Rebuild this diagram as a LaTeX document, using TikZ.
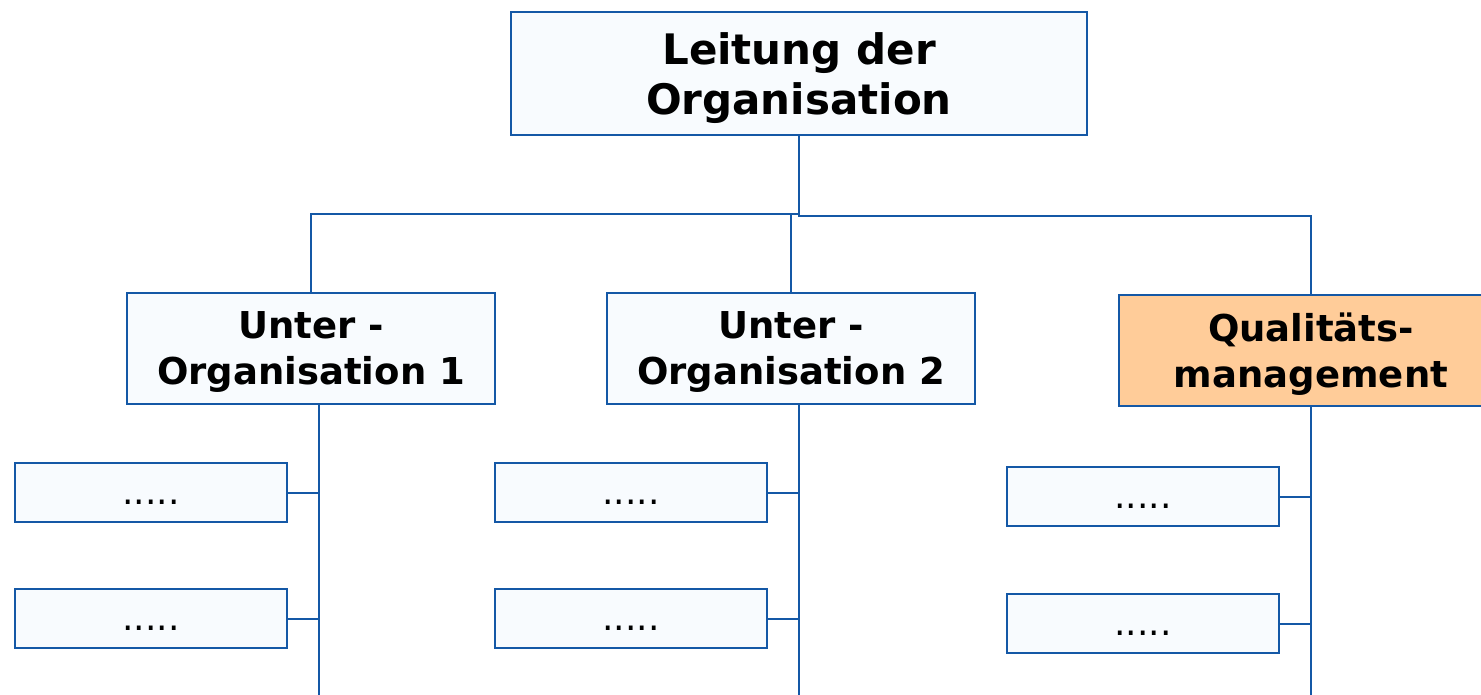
\documentclass[tikz,border=0pt]{standalone}
\usepackage{fontspec}
\setmainfont{DejaVu Sans}
\definecolor{lineblue}{RGB}{20,88,166}
\definecolor{boxfill}{RGB}{248,251,254}
\definecolor{qmfill}{RGB}{255,204,153}
\tikzset{
  orgbox/.style={draw=lineblue, line width=2pt, fill=boxfill, inner sep=0pt, align=center},
  topbox/.style={orgbox, minimum width=576pt, minimum height=123pt, text depth=0pt, font=\fontsize{42}{50}\selectfont\bfseries},
  subbox/.style={orgbox, minimum width=368pt, minimum height=111pt, text depth=0pt, font=\fontsize{37}{46}\selectfont\bfseries},
  qmbox/.style={subbox, fill=qmfill, minimum width=384pt},
  dotbox/.style={orgbox, minimum width=272pt, minimum height=59pt, text height=24pt, text depth=0pt, font=\fontsize{36}{40}\selectfont},
  conn/.style={draw=lineblue, line width=2pt}
}
\begin{document}
\begin{tikzpicture}[x=1pt,y=-1pt]
\useasboundingbox (0,0) rectangle (1481,694);
\clip (0,0) rectangle (1481,694);
\fill[white] (0,0) rectangle (1481,694);

\node[topbox] (top) at (799,73.5) {Leitung der\\Organisation};
\node[subbox] (sub1) at (311,348.5) {Unter -\\Organisation 1};
\node[subbox] (sub2) at (791,348.5) {Unter -\\Organisation 2};
\node[qmbox] (qm) at (1311,350.5) {Qualitäts-\\management};

\node[dotbox] (l1) at (151,492.5) {.....};
\node[dotbox] (l2) at (151,618.5) {.....};
\node[dotbox] (m1) at (631,492.5) {.....};
\node[dotbox] (m2) at (631,618.5) {.....};
\node[dotbox] (r1) at (1143,496.5) {.....};
\node[dotbox] (r2) at (1143,623.5) {.....};

\coordinate (busL) at (311,214);
\coordinate (busR) at (1311,216);
\coordinate (s1b) at (319,404);
\coordinate (s1e) at (319,700);
\coordinate (s2b) at (799,404);
\coordinate (s2e) at (799,700);
\coordinate (s3b) at (1311,406);
\coordinate (s3e) at (1311,700);

\draw[conn] (top.south) -- (top.south |- busL) -| (sub1.north);
\draw[conn] (top.south) -- (top.south |- busR) -| (qm.north);
\draw[conn] (sub2.north) -- (sub2.north |- busL);

\draw[conn] (s1b) -- (s1e);
\draw[conn] (s2b) -- (s2e);
\draw[conn] (s3b) -- (s3e);

\draw[conn] (l1.east) -- (l1.east -| s1b);
\draw[conn] (l2.east) -- (l2.east -| s1b);
\draw[conn] (m1.east) -- (m1.east -| s2b);
\draw[conn] (m2.east) -- (m2.east -| s2b);
\draw[conn] (r1.east) -- (r1.east -| s3b);
\draw[conn] (r2.east) -- (r2.east -| s3b);
\end{tikzpicture}
\end{document}
